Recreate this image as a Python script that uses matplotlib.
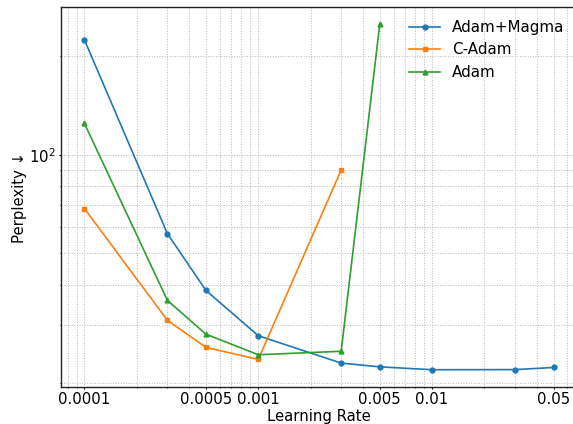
import matplotlib
matplotlib.use("Agg")
import matplotlib.pyplot as plt
from matplotlib.ticker import FixedLocator, FixedFormatter

lr_magma = [0.0001, 0.0003, 0.0005, 0.001, 0.003, 0.005, 0.01, 0.03, 0.05]
ppl_magma = [224.6, 57.3, 38.4, 27.9, 23.0, 22.4, 21.95, 21.97, 22.3]

lr_cadam = [0.0001, 0.0003, 0.0005, 0.001, 0.003]
ppl_cadam = [68.4, 31.1, 25.7, 23.6, 89.8]

lr_adam = [0.0001, 0.0003, 0.0005, 0.001, 0.003, 0.005]
ppl_adam = [124.6, 35.8, 28.2, 24.4, 25.0, 250.8]

xticks = [0.0001, 0.0005, 0.001, 0.005, 0.01, 0.05]
xticklabels = ["0.0001", "0.0005", "0.001", "0.005", "0.01", "0.05"]

fs = 10.7
fig = plt.figure(figsize=(5.73, 4.24), dpi=100)
ax = fig.add_axes([61/573, 37/424, 516/573, 380/424])

ax.plot(lr_magma, ppl_magma, marker="o", markersize=3.5, lw=1.2, color="#1f77b4", label="Adam+Magma")
ax.plot(lr_cadam, ppl_cadam, marker="s", markersize=3.5, lw=1.2, color="#ff7f0e", label="C-Adam")
ax.plot(lr_adam, ppl_adam, marker="^", markersize=3.5, lw=1.2, color="#2ca02c", label="Adam")

ax.set_xscale("log")
ax.set_yscale("log")
ax.xaxis.set_major_locator(FixedLocator(xticks))
ax.xaxis.set_major_formatter(FixedFormatter(xticklabels))

ax.grid(True, which="both", linestyle=":", color="#b8b8b8", linewidth=0.7)
ax.tick_params(labelsize=fs, which="major", length=1.6, width=0.8, pad=2.2)
ax.tick_params(which="minor", length=1.0, width=0.6)
for s in ax.spines.values():
    s.set_linewidth(1.0)
    s.set_color("#222222")
ax.set_xlabel("Learning Rate", fontsize=fs, labelpad=1)
ax.set_ylabel("Perplexity ↓", fontsize=fs, labelpad=1.5)
ax.legend(loc="upper right", frameon=False, fontsize=10.9, borderaxespad=0.45)

fig.savefig("out.png", dpi=100)
